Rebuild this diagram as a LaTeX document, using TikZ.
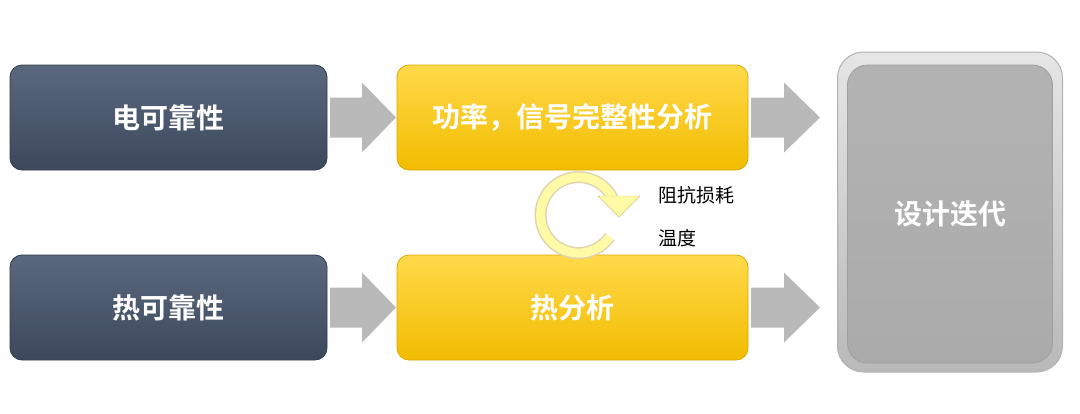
\documentclass[tikz,border=0pt]{standalone}
\usepackage{fontspec}
\newfontfamily\cjk{Noto Sans CJK SC}
\newfontfamily\cjkb{Noto Sans CJK SC Bold}
\definecolor{slate}{HTML}{3C495C}
\definecolor{slatetop}{HTML}{5A687E}
\definecolor{gold}{HTML}{F2BC00}
\definecolor{goldtop}{HTML}{FFD94A}
\begin{document}
\begin{tikzpicture}[x=1pt,y=-1pt,
  darkbox/.style={rounded corners=12pt,top color=slatetop,bottom color=slate,draw=slate!80!black,line width=0.8pt,text=white,font=\cjkb\fontsize{28}{32}\selectfont,minimum width=317pt,minimum height=105pt},
  yelbox/.style={rounded corners=12pt,top color=goldtop,bottom color=gold,draw=gold!90!black,line width=0.8pt,text=white,font=\cjkb\fontsize{28}{32}\selectfont,minimum width=351pt,minimum height=105pt},
  garrow/.style={fill=gray!55,draw=none},
  lab/.style={font=\cjk\fontsize{19}{22}\selectfont,anchor=west}]
\useasboundingbox (0,0) rectangle (1080,413);
\node[darkbox] (e) at (168.5,117.5) {电可靠性};
\node[darkbox] (t) at (168.5,307.5) {热可靠性};
\node[yelbox] (p) at (572.5,117.5) {功率，信号完整性分析};
\node[yelbox] (h) at (572.5,307.5) {热分析};
\node[rounded corners=26pt,top color=gray!20,bottom color=gray!55,draw=gray!60,line width=1pt,minimum width=225pt,minimum height=320pt] (dout) at (950,212) {};
\node[rounded corners=20pt,top color=gray!60,bottom color=gray!90!black!60,draw=gray!75,line width=0.8pt,minimum width=205pt,minimum height=298pt,text=white,font=\cjkb\fontsize{28}{32}\selectfont] (d) at (950,214) {设计迭代};
\foreach \y in {117.5,307.5}{
  \fill[garrow] (330,\y-20) -- (362,\y-20) -- (362,\y-35) -- (396,\y) -- (362,\y+35) -- (362,\y+20) -- (330,\y+20) -- cycle;
  \fill[garrow] (751,\y-20) -- (784,\y-20) -- (784,\y-35) -- (820,\y) -- (784,\y+35) -- (784,\y+20) -- (751,\y+20) -- cycle;
}
\draw[line width=12pt,yellow!60!orange!60!black!35] (613,199) arc[start angle=-25,end angle=-325,radius=38];
\draw[line width=9pt,yellow!35!white] (613,199) arc[start angle=-25,end angle=-325,radius=38];
\fill[yellow!35!white,draw=gold!70!black!50] (598,196) -- (640,196) -- (619,217) -- cycle;
\node[lab] (l1) at (655,195) {阻抗损耗};
\node[lab] (l2) at (655,238) {温度};
\end{tikzpicture}
\end{document}
